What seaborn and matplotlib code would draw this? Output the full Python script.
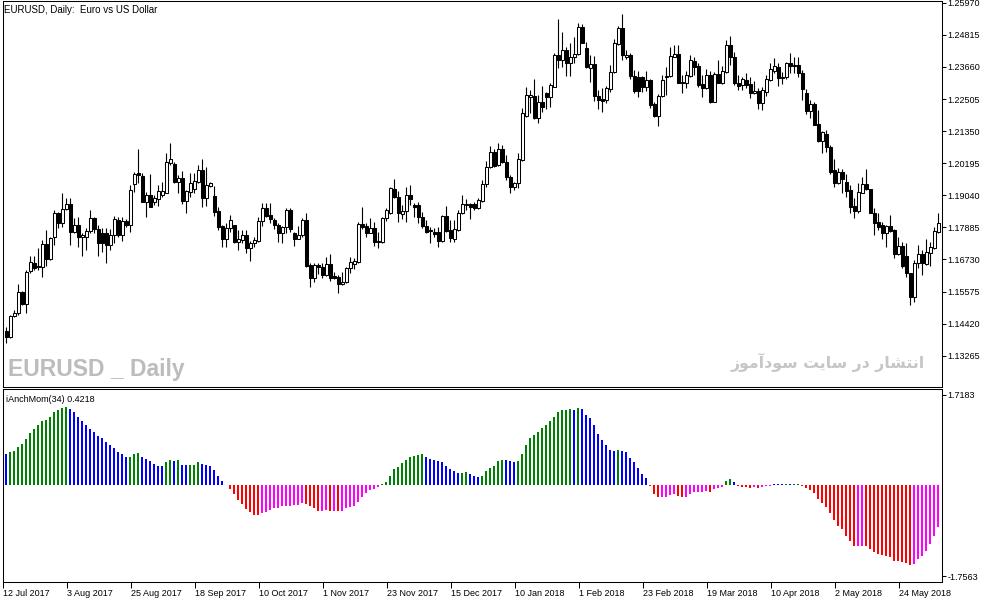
import unicodedata
import numpy as np
import pandas as pd
import matplotlib
matplotlib.use("Agg")
import matplotlib.pyplot as plt
import seaborn as sns

# ---------------- data ----------------
date_labels = ["12 Jul 2017", "3 Aug 2017", "25 Aug 2017", "18 Sep 2017", "10 Oct 2017",
               "1 Nov 2017", "23 Nov 2017", "15 Dec 2017", "10 Jan 2018", "1 Feb 2018",
               "23 Feb 2018", "19 Mar 2018", "10 Apr 2018", "2 May 2018", "24 May 2018"]

price_ticks = [1.13265, 1.14420, 1.15575, 1.16730, 1.17885, 1.19040,
               1.20195, 1.21350, 1.22505, 1.23660, 1.24815, 1.25970]
mom_ticks = [1.7183, -1.7563]

opens = [
    1.1415, 1.1395, 1.1470, 1.1479, 1.1557, 1.1514, 1.1630, 1.1660, 1.1649, 1.1647,
    1.1729, 1.1676, 1.1753, 1.1840, 1.1803, 1.1856, 1.1873, 1.1773, 1.1796, 1.1753,
    1.1755, 1.1774, 1.1821, 1.1782, 1.1769, 1.1767, 1.1724, 1.1760, 1.1815, 1.1762,
    1.1813, 1.1798, 1.1944, 1.1983, 1.1973, 1.1881, 1.1904, 1.1881, 1.1892, 1.1906,
    1.1913, 1.2021, 1.2017, 1.1953, 1.1965, 1.1885, 1.1917, 1.1926, 1.1953, 1.1995,
    1.1893, 1.1937, 1.1901, 1.1849, 1.1793, 1.1745, 1.1785, 1.1796, 1.1735, 1.1743,
    1.1760, 1.1713, 1.1731, 1.1741, 1.1811, 1.1857, 1.1833, 1.1815, 1.1796, 1.1767,
    1.1789, 1.1851, 1.1767, 1.1748, 1.1760, 1.1815, 1.1653, 1.1605, 1.1654, 1.1647,
    1.1617, 1.1656, 1.1615, 1.1610, 1.1585, 1.1593, 1.1641, 1.1658, 1.1665, 1.1800,
    1.1793, 1.1769, 1.1785, 1.1739, 1.1735, 1.1821, 1.1839, 1.1926, 1.1899, 1.1836,
    1.1847, 1.1905, 1.1869, 1.1869, 1.1825, 1.1795, 1.1778, 1.1771, 1.1771, 1.1741,
    1.1829, 1.1779, 1.1745, 1.1779, 1.1839, 1.1870, 1.1873, 1.1873, 1.1857, 1.1885,
    1.1945, 1.2007, 1.2061, 1.2013, 1.2070, 1.2025, 1.1971, 1.1935, 1.1947, 1.2031,
    1.2191, 1.2259, 1.2261, 1.2183, 1.2241, 1.2271, 1.2259, 1.2295, 1.2409, 1.2391,
    1.2427, 1.2381, 1.2401, 1.2413, 1.2509, 1.2433, 1.2363, 1.2375, 1.2263, 1.2250,
    1.2247, 1.2286, 1.2349, 1.2448, 1.2505, 1.2401, 1.2409, 1.2333, 1.2329, 1.2329,
    1.2293, 1.2319, 1.2233, 1.2189, 1.2263, 1.2331, 1.2333, 1.2403, 1.2413, 1.2313,
    1.2309, 1.2333, 1.2389, 1.2369, 1.2305, 1.2289, 1.2337, 1.2241, 1.2341, 1.2309,
    1.2349, 1.2445, 1.2401, 1.2309, 1.2301, 1.2319, 1.2304, 1.2271, 1.2279, 1.2237,
    1.2277, 1.2319, 1.2352, 1.2367, 1.2331, 1.2329, 1.2379, 1.2373, 1.2373, 1.2343,
    1.2273, 1.2209, 1.2233, 1.2161, 1.2101, 1.2125, 1.2079, 1.1995, 1.1949, 1.1989,
    1.1953, 1.1923, 1.1865, 1.1849, 1.1913, 1.1945, 1.1926, 1.1841, 1.1809, 1.1797,
    1.1769, 1.1793, 1.1779, 1.1693, 1.1721, 1.1685, 1.1623, 1.1537, 1.1661, 1.1692,
    1.1656, 1.1697, 1.1713, 1.1773]

highs = [
    1.1431, 1.1472, 1.1491, 1.1585, 1.1561, 1.1635, 1.1685, 1.1685, 1.1713, 1.1743,
    1.1779, 1.1755, 1.1851, 1.1845, 1.1913, 1.1893, 1.1893, 1.1821, 1.1825, 1.1767,
    1.1785, 1.1851, 1.1825, 1.1797, 1.1785, 1.1785, 1.1782, 1.1829, 1.1825, 1.1825,
    1.1818, 1.1941, 1.1989, 1.2071, 1.1985, 1.1917, 1.1981, 1.1905, 1.1941, 1.1953,
    1.2057, 1.2091, 1.2025, 1.1977, 1.1993, 1.1923, 1.1985, 1.1985, 1.2013, 1.2035,
    1.2005, 1.1953, 1.1937, 1.1861, 1.1797, 1.1803, 1.1833, 1.1797, 1.1779, 1.1779,
    1.1779, 1.1741, 1.1755, 1.1825, 1.1877, 1.1877, 1.1875, 1.1821, 1.1803, 1.1793,
    1.1857, 1.1857, 1.1773, 1.1793, 1.1821, 1.1839, 1.1661, 1.1659, 1.1661, 1.1659,
    1.1683, 1.1693, 1.1629, 1.1617, 1.1629, 1.1647, 1.1683, 1.1677, 1.1808, 1.1861,
    1.1805, 1.1821, 1.1809, 1.1773, 1.1827, 1.1857, 1.1935, 1.1962, 1.1921, 1.1869,
    1.1935, 1.1941, 1.1877, 1.1881, 1.1845, 1.1815, 1.1791, 1.1785, 1.1791, 1.1833,
    1.1865, 1.1815, 1.1815, 1.1851, 1.1905, 1.1890, 1.1877, 1.1881, 1.1893, 1.1959,
    1.2029, 1.2081, 1.2070, 1.2093, 1.2085, 1.2049, 1.1977, 1.1953, 1.2057, 1.2217,
    1.2295, 1.2283, 1.2321, 1.2265, 1.2297, 1.2277, 1.2307, 1.2415, 1.2538, 1.2493,
    1.2439, 1.2453, 1.2475, 1.2523, 1.2521, 1.2457, 1.2409, 1.2405, 1.2283, 1.2289,
    1.2297, 1.2373, 1.2466, 1.2513, 1.2557, 1.2427, 1.2415, 1.2355, 1.2352, 1.2333,
    1.2352, 1.2321, 1.2241, 1.2269, 1.2337, 1.2367, 1.2439, 1.2445, 1.2445, 1.2337,
    1.2352, 1.2409, 1.2403, 1.2379, 1.2337, 1.2358, 1.2352, 1.2349, 1.2391, 1.2369,
    1.2463, 1.2477, 1.2421, 1.2337, 1.2331, 1.2345, 1.2331, 1.2317, 1.2289, 1.2293,
    1.2337, 1.2379, 1.2397, 1.2379, 1.2349, 1.2385, 1.2415, 1.2401, 1.2401, 1.2355,
    1.2286, 1.2247, 1.2241, 1.2211, 1.2137, 1.2139, 1.2085, 1.2034, 1.2001, 1.1998,
    1.1981, 1.1941, 1.1893, 1.1947, 1.1971, 1.1998, 1.1926, 1.1857, 1.1841, 1.1809,
    1.1797, 1.1833, 1.1782, 1.1755, 1.1737, 1.1731, 1.1625, 1.1671, 1.1725, 1.1707,
    1.1745, 1.1737, 1.1791, 1.1841]

lows = [
    1.1371, 1.1390, 1.1467, 1.1472, 1.1510, 1.1479, 1.1623, 1.1635, 1.1635, 1.1611,
    1.1649, 1.1671, 1.1725, 1.1785, 1.1791, 1.1851, 1.1725, 1.1767, 1.1717, 1.1685,
    1.1707, 1.1767, 1.1767, 1.1685, 1.1701, 1.1661, 1.1707, 1.1731, 1.1755, 1.1741,
    1.1791, 1.1773, 1.1917, 1.1947, 1.1881, 1.1825, 1.1863, 1.1869, 1.1865, 1.1899,
    1.1913, 1.2013, 1.1947, 1.1911, 1.1873, 1.1839, 1.1899, 1.1911, 1.1947, 1.1861,
    1.1865, 1.1935, 1.1829, 1.1779, 1.1717, 1.1719, 1.1773, 1.1731, 1.1707, 1.1731,
    1.1697, 1.1669, 1.1717, 1.1737, 1.1793, 1.1825, 1.1805, 1.1782, 1.1737, 1.1731,
    1.1767, 1.1773, 1.1721, 1.1745, 1.1755, 1.1647, 1.1575, 1.1593, 1.1621, 1.1605,
    1.1613, 1.1597, 1.1602, 1.1553, 1.1581, 1.1587, 1.1623, 1.1638, 1.1661, 1.1783,
    1.1753, 1.1767, 1.1721, 1.1713, 1.1731, 1.1813, 1.1837, 1.1893, 1.1809, 1.1818,
    1.1809, 1.1869, 1.1827, 1.1803, 1.1785, 1.1769, 1.1731, 1.1755, 1.1717, 1.1737,
    1.1773, 1.1737, 1.1737, 1.1776, 1.1837, 1.1851, 1.1818, 1.1851, 1.1854, 1.1881,
    1.1935, 1.2001, 1.2007, 1.2009, 1.2019, 1.1959, 1.1913, 1.1923, 1.1929, 1.2028,
    1.2187, 1.2199, 1.2178, 1.2165, 1.2205, 1.2214, 1.2223, 1.2293, 1.2361, 1.2367,
    1.2333, 1.2333, 1.2381, 1.2409, 1.2451, 1.2361, 1.2313, 1.2245, 1.2214, 1.2205,
    1.2235, 1.2277, 1.2345, 1.2445, 1.2391, 1.2394, 1.2321, 1.2271, 1.2259, 1.2277,
    1.2281, 1.2217, 1.2187, 1.2153, 1.2259, 1.2265, 1.2329, 1.2401, 1.2307, 1.2273,
    1.2289, 1.2331, 1.2337, 1.2295, 1.2259, 1.2286, 1.2235, 1.2241, 1.2307, 1.2305,
    1.2345, 1.2373, 1.2301, 1.2283, 1.2283, 1.2289, 1.2253, 1.2269, 1.2215, 1.2211,
    1.2261, 1.2316, 1.2345, 1.2297, 1.2305, 1.2321, 1.2343, 1.2343, 1.2329, 1.2247,
    1.2197, 1.2181, 1.2157, 1.2097, 1.2055, 1.2061, 1.1981, 1.1935, 1.1945, 1.1911,
    1.1897, 1.1839, 1.1821, 1.1841, 1.1911, 1.1923, 1.1839, 1.1761, 1.1779, 1.1745,
    1.1717, 1.1773, 1.1677, 1.1689, 1.1641, 1.1609, 1.1509, 1.1521, 1.1641, 1.1617,
    1.1653, 1.1649, 1.1710, 1.1769]

closes = [
    1.1395, 1.1469, 1.1481, 1.1555, 1.1514, 1.1629, 1.1663, 1.1641, 1.1645, 1.1729,
    1.1676, 1.1749, 1.1840, 1.1803, 1.1854, 1.1873, 1.1773, 1.1796, 1.1753, 1.1760,
    1.1775, 1.1821, 1.1782, 1.1733, 1.1733, 1.1725, 1.1761, 1.1818, 1.1762, 1.1813,
    1.1798, 1.1923, 1.1981, 1.1978, 1.1881, 1.1904, 1.1863, 1.1893, 1.1919, 1.1919,
    1.2023, 1.2035, 1.1951, 1.1965, 1.1883, 1.1919, 1.1949, 1.1957, 1.1995, 1.1893,
    1.1941, 1.1949, 1.1845, 1.1791, 1.1745, 1.1785, 1.1815, 1.1736, 1.1747, 1.1760,
    1.1713, 1.1731, 1.1743, 1.1811, 1.1857, 1.1829, 1.1819, 1.1796, 1.1767, 1.1789,
    1.1851, 1.1782, 1.1748, 1.1760, 1.1815, 1.1649, 1.1607, 1.1653, 1.1647, 1.1617,
    1.1656, 1.1607, 1.1607, 1.1585, 1.1593, 1.1641, 1.1665, 1.1667, 1.1800, 1.1791,
    1.1769, 1.1787, 1.1735, 1.1735, 1.1821, 1.1851, 1.1929, 1.1899, 1.1839, 1.1847,
    1.1905, 1.1891, 1.1863, 1.1827, 1.1795, 1.1773, 1.1775, 1.1765, 1.1741, 1.1829,
    1.1777, 1.1749, 1.1783, 1.1839, 1.1873, 1.1873, 1.1863, 1.1857, 1.1887, 1.1945,
    1.2007, 1.2061, 1.2011, 1.2070, 1.2025, 1.1969, 1.1935, 1.1947, 1.2034, 1.2199,
    1.2265, 1.2264, 1.2183, 1.2241, 1.2223, 1.2259, 1.2301, 1.2409, 1.2391, 1.2427,
    1.2381, 1.2401, 1.2413, 1.2509, 1.2453, 1.2367, 1.2375, 1.2263, 1.2247, 1.2245,
    1.2289, 1.2349, 1.2451, 1.2505, 1.2409, 1.2409, 1.2333, 1.2281, 1.2281, 1.2293,
    1.2319, 1.2229, 1.2189, 1.2263, 1.2319, 1.2335, 1.2405, 1.2413, 1.2309, 1.2307,
    1.2337, 1.2391, 1.2367, 1.2301, 1.2289, 1.2337, 1.2241, 1.2341, 1.2309, 1.2352,
    1.2445, 1.2401, 1.2307, 1.2299, 1.2321, 1.2301, 1.2271, 1.2279, 1.2237, 1.2283,
    1.2321, 1.2358, 1.2369, 1.2325, 1.2325, 1.2379, 1.2369, 1.2369, 1.2343, 1.2287,
    1.2209, 1.2233, 1.2157, 1.2101, 1.2133, 1.2077, 1.1989, 1.1949, 1.1989, 1.1962,
    1.1921, 1.1863, 1.1849, 1.1915, 1.1945, 1.1926, 1.1839, 1.1805, 1.1791, 1.1769,
    1.1793, 1.1777, 1.1693, 1.1721, 1.1649, 1.1625, 1.1539, 1.1661, 1.1692, 1.1659,
    1.1701, 1.1719, 1.1775, 1.1803]

momentum = [
    0.574, 0.618, 0.650, 0.714, 0.765, 0.873, 0.988, 1.064, 1.128, 1.211,
    1.224, 1.287, 1.383, 1.415, 1.453, 1.491, 1.434, 1.383, 1.300, 1.211,
    1.128, 1.064, 1.001, 0.924, 0.892, 0.822, 0.758, 0.701, 0.618, 0.574,
    0.523, 0.535, 0.574, 0.593, 0.529, 0.491, 0.440, 0.395, 0.363, 0.360,
    0.427, 0.459, 0.446, 0.459, 0.382, 0.370, 0.376, 0.382, 0.421, 0.395,
    0.376, 0.363, 0.280, 0.166, 0.064, -0.013, -0.089, -0.191, -0.287, -0.382,
    -0.472, -0.535, -0.580, -0.586, -0.548, -0.523, -0.484, -0.453, -0.440, -0.408,
    -0.404, -0.402, -0.400, -0.395, -0.344, -0.370, -0.414, -0.440, -0.510, -0.497,
    -0.484, -0.510, -0.497, -0.515, -0.497, -0.440, -0.427, -0.402, -0.325, -0.242,
    -0.159, -0.108, -0.083, -0.045, 0.013, 0.057, 0.172, 0.287, 0.344, 0.402,
    0.478, 0.535, 0.554, 0.570, 0.574, 0.535, 0.497, 0.459, 0.440, 0.421,
    0.363, 0.287, 0.249, 0.225, 0.228, 0.230, 0.204, 0.172, 0.153, 0.172,
    0.249, 0.306, 0.363, 0.440, 0.478, 0.475, 0.440, 0.421, 0.440, 0.574,
    0.746, 0.880, 0.950, 1.013, 1.077, 1.147, 1.205, 1.300, 1.377, 1.415,
    1.430, 1.434, 1.415, 1.453, 1.434, 1.338, 1.262, 1.128, 0.975, 0.860,
    0.746, 0.669, 0.650, 0.669, 0.631, 0.612, 0.516, 0.427, 0.325, 0.210,
    0.121, -0.032, -0.185, -0.242, -0.240, -0.236, -0.210, -0.185, -0.223, -0.242,
    -0.236, -0.185, -0.147, -0.145, -0.143, -0.127, -0.147, -0.089, -0.070, -0.051,
    0.076, 0.096, 0.045, -0.038, -0.051, -0.053, -0.070, -0.051, -0.070, -0.051,
    -0.038, -0.025, 0.010, 0.008, 0.006, 0.013, 0.006, 0.013, 0.015, -0.019,
    -0.064, -0.096, -0.166, -0.274, -0.357, -0.433, -0.548, -0.688, -0.784, -0.854,
    -0.975, -1.071, -1.185, -1.180, -1.166, -1.179, -1.230, -1.281, -1.326, -1.351,
    -1.358, -1.377, -1.453, -1.455, -1.485, -1.504, -1.536, -1.517, -1.421, -1.358,
    -1.262, -1.134, -0.975, -0.816]

# colour code of every histogram bar: g=green, b=blue, r=red, m=magenta
bar_colors = list(
    "bgggggggggggggggbbbbbbbbbbbbbbbgggbbbbbbggbgbbgggbbbbbb"
    "rrrrrrrrrmmmmmmmmmmmrrrrmmrmrmmmmmmmmmm"
    "gggggggggggbbbbbbbbbggbbbggggggbbbgggggggggggggg"
    "bgbbbbbbbbbgbbbbbbb"
    "rrrmmmmrrmmmmmmrmmmggbrrrrmrmmmbbbgbgg"
    "rrrrrrrrrrrrrrmmrrrrrrrrrrrrmmmmmmm")

palette = {"g": "#008000", "b": "#0000ff", "r": "#ff0000", "m": "#ff00ff"}

title_text = "EURUSD, Daily:  Euro vs US Dollar"
indicator_text = "iAnchMom(34) 0.4218"
watermark_left = "EURUSD _ Daily"
watermark_right = "انتشار در سایت سودآموز"

assert len(bar_colors) == len(momentum) == len(closes)

# ---------------- minimal Arabic-script shaping for matplotlib ----------------
FORMS = {  # isolated, final, initial, medial
    "\u0627": ("\ufe8d", "\ufe8e", None, None),
    "\u0622": ("\ufe81", "\ufe82", None, None),
    "\u062f": ("\ufea9", "\ufeaa", None, None),
    "\u0631": ("\ufead", "\ufeae", None, None),
    "\u0632": ("\ufeaf", "\ufeb0", None, None),
    "\u0648": ("\ufeed", "\ufeee", None, None),
    "\u0646": ("\ufee5", "\ufee6", "\ufee7", "\ufee8"),
    "\u062a": ("\ufe95", "\ufe96", "\ufe97", "\ufe98"),
    "\u0634": ("\ufeb5", "\ufeb6", "\ufeb7", "\ufeb8"),
    "\u0633": ("\ufeb1", "\ufeb2", "\ufeb3", "\ufeb4"),
    "\u0645": ("\ufee1", "\ufee2", "\ufee3", "\ufee4"),
    "\u06cc": ("\ufbfc", "\ufbfd", "\ufbfe", "\ufbff"),
}


def shape_rtl(text):
    text = unicodedata.normalize("NFC", text)
    out = []
    for i, ch in enumerate(text):
        if ch not in FORMS:
            out.append(ch)
            continue
        prev = text[i - 1] if i > 0 else ""
        nxt = text[i + 1] if i + 1 < len(text) else ""
        joins_prev = prev in FORMS and FORMS[prev][2] is not None
        joins_next = FORMS[ch][2] is not None and nxt in FORMS
        iso, fin, ini, med = FORMS[ch]
        if joins_prev and joins_next:
            out.append(med)
        elif joins_prev:
            out.append(fin)
        elif joins_next:
            out.append(ini)
        else:
            out.append(iso)
    return "".join(reversed(out))


# ---------------- figure ----------------
W, H = 994, 603
sns.set_theme(style="white")
plt.rcParams["font.family"] = ["Liberation Sans", "DejaVu Sans"]
plt.rcParams["axes.edgecolor"] = "black"
plt.rcParams["axes.linewidth"] = 0.75

fig = plt.figure(figsize=(W / 100, H / 100), dpi=100)
fig.patch.set_facecolor("white")


def frac(x0, y0, x1, y1):
    return [x0 / W, 1 - y1 / H, (x1 - x0) / W, (y1 - y0) / H]


ax1 = fig.add_axes(frac(2.5, 1, 941.5, 387))
ax2 = fig.add_axes(frac(2.5, 389.3, 941.5, 581.7))

# candlesticks
n = len(closes)
idx = np.arange(n)
o = np.array(opens)
c = np.array(closes)
up = c >= o
ax1.vlines(idx, lows, highs, color="black", linewidth=0.8, zorder=1)
body_lo = np.minimum(o, c)
body_h = np.maximum(np.abs(c - o), 0.00003)
ax1.bar(idx, body_h, bottom=body_lo, width=0.6,
        color=np.where(up, "white", "black"), edgecolor="black",
        linewidth=0.75, zorder=2)

# momentum histogram
df = pd.DataFrame({"bar": idx, "value": momentum, "col": bar_colors})
sns.barplot(data=df, x="bar", y="value", hue="col", palette=palette,
            dodge=False, width=0.5, saturation=1, errorbar=None,
            legend=False, linewidth=0, ax=ax2)

for ax in (ax1, ax2):
    ax.set_xlim(-0.95, 233.8)
    ax.set_xlabel("")
    ax.set_ylabel("")
    ax.set_facecolor("white")
    for s in ax.spines.values():
        s.set_visible(True)
        s.set_color("black")
        s.set_linewidth(0.75)

ax1.set_ylim(1.12138, 1.26034)
ax2.set_ylim(-1.858, 1.820)

ax1.yaxis.tick_right()
ax1.set_yticks(price_ticks, [f"{v:.5f}" for v in price_ticks])
ax1.set_xticks([])
ax1.tick_params(axis="y", right=True, left=False, direction="out", length=3,
                width=0.75, pad=1.5, labelsize=6.5, colors="black")

ax2.yaxis.tick_right()
ax2.set_yticks(mom_ticks, [f"{v:.4f}" for v in mom_ticks])
ax2.tick_params(axis="y", right=True, left=False, direction="out", length=3,
                width=0.75, pad=1.5, labelsize=6.5, colors="black")
tick_pos = np.arange(len(date_labels)) * 16 - 0.9
ax2.set_xticks(tick_pos, date_labels, ha="left")
ax2.tick_params(axis="x", bottom=True, direction="out", length=4, width=0.75,
                pad=1.5, labelsize=6.5, colors="black")

# texts
fig.text(3.5 / W, 1 - 10 / H, title_text, ha="left", va="center",
         fontsize=7, color="black")
fig.text(6 / W, 1 - 399 / H, indicator_text, ha="left", va="center",
         fontsize=6.5, color="black")
fig.text(8 / W, 1 - 376 / H, watermark_left, ha="left", va="baseline",
         fontsize=16.5, fontweight="bold", color="#bcbcbc",
         family=["Liberation Sans"])
fig.text(925 / W, 1 - 368.5 / H, shape_rtl(watermark_right), ha="right",
         va="baseline", fontsize=11.3, fontweight="bold", color="#c6c6c6",
         family=["DejaVu Sans"])

fig.savefig("out.png", dpi=100, facecolor="white")
